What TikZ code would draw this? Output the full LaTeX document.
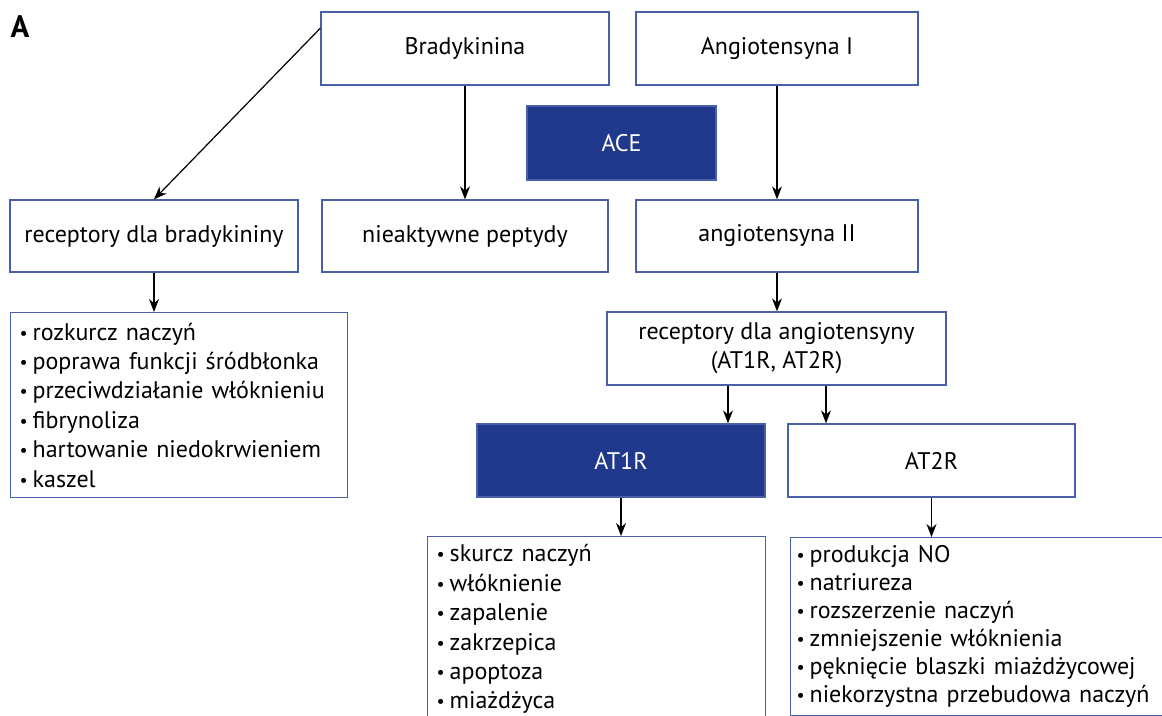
\documentclass[tikz,border=0pt]{standalone}
\usepackage{fontspec}
\setmainfont{PT Sans}
\usetikzlibrary{arrows.meta,positioning,calc}
\definecolor{aceblue}{RGB}{32,57,140}
\definecolor{boxline}{RGB}{72,96,168}
\newcommand{\bul}{\makebox[13pt][l]{\raisebox{1pt}{\scalebox{0.75}{\textbullet}}}}

\begin{document}
\begin{tikzpicture}[
    x=1pt, y=-1pt,
    box/.style={rectangle, draw=boxline, line width=1.3pt, align=center, font=\fontsize{24}{29}\selectfont, inner sep=0pt},
    dark/.style={box, fill=aceblue, text=white},
    listbox/.style={rectangle, draw=boxline, line width=1.3pt, align=left, anchor=north west, font=\fontsize{24}{29.4}\selectfont, inner xsep=9pt, inner ysep=8pt},
    arrow/.style={-{Stealth[length=13pt, width=10pt]}, line width=1.2pt}
]
    \useasboundingbox (0,0) rectangle (1162,715);
    \clip (0,0) rectangle (1162,715);

    \node[font=\fontsize{31}{31}\selectfont\bfseries] (label) at (20,27) {A};

    % top row
    \node[box, minimum width=288pt, minimum height=73pt] (brady) at (465,48.5) {Bradykinina};
    \node[box, minimum width=282pt, minimum height=73pt] (angI) at (777,48.5) {Angiotensyna I};
    \node[dark, minimum width=189pt, minimum height=74pt] (ace) at (621.5,143) {ACE};

    % products
    \node[box, minimum width=288pt, minimum height=72pt] (rbk) at (154,236) {receptory dla bradykininy};
    \node[box, minimum width=286pt, minimum height=72pt] (peptydy) at (465,236) {nieaktywne peptydy};
    \node[box, minimum width=282pt, minimum height=72pt] (angII) at (777,236) {angiotensyna II};

    % receptors
    \node[box, minimum width=339pt, minimum height=73pt] (rat) at (776.5,348.5) {receptory dla angiotensyny\\(AT1R, AT2R)};
    \node[dark, minimum width=288pt, minimum height=73pt] (at1) at (621,460.5) {AT1R};
    \node[box, minimum width=287pt, minimum height=73pt] (at2) at (931.5,460.5) {AT2R};

    % effects
    \node[listbox, minimum width=337pt, minimum height=185pt, text width=319pt] (blist) at (10,312) {\bul rozkurcz naczyń\\\bul poprawa funkcji śródbłonka\\\bul przeciwdziałanie włóknieniu\\\bul fibrynoliza\\\bul hartowanie niedokrwieniem\\\bul kaszel};
    \node[listbox, minimum width=338pt, text width=320pt] (l1) at (427,536) {\bul skurcz naczyń\\\bul włóknienie\\\bul zapalenie\\\bul zakrzepica\\\bul apoptoza\\\bul miażdżyca\\};
    \node[listbox, minimum width=420pt, text width=408pt, inner xsep=6pt, font=\fontsize{24}{28}\selectfont] (l2) at (790,537) {\bul produkcja NO\\\bul natriureza\\\bul rozszerzenie naczyń\\\bul zmniejszenie włóknienia\\\bul pęknięcie blaszki miażdżycowej\\\bul niekorzystna przebudowa naczyń\\};

    \coordinate (r1) at ($(rat.south)+(-48.5,0)$);
    \coordinate (r2) at ($(rat.south)+(49.5,0)$);

    \draw[arrow] (brady.172) -- (rbk.north);
    \draw[arrow] (brady) -- (peptydy);
    \draw[arrow] (angI) -- (angII);
    \draw[arrow] (rbk.south) -- (rbk.south |- blist.north);
    \draw[arrow] (angII.south) -- (angII.south |- rat.north);
    \draw[arrow] (r1) -- (r1 |- at1.north);
    \draw[arrow] (r2) -- (r2 |- at2.north);
    \draw[arrow] (at1.south) -- (at1.south |- l1.north);
    \draw[arrow] (at2.south) -- (at2.south |- l2.north);
\end{tikzpicture}
\end{document}
